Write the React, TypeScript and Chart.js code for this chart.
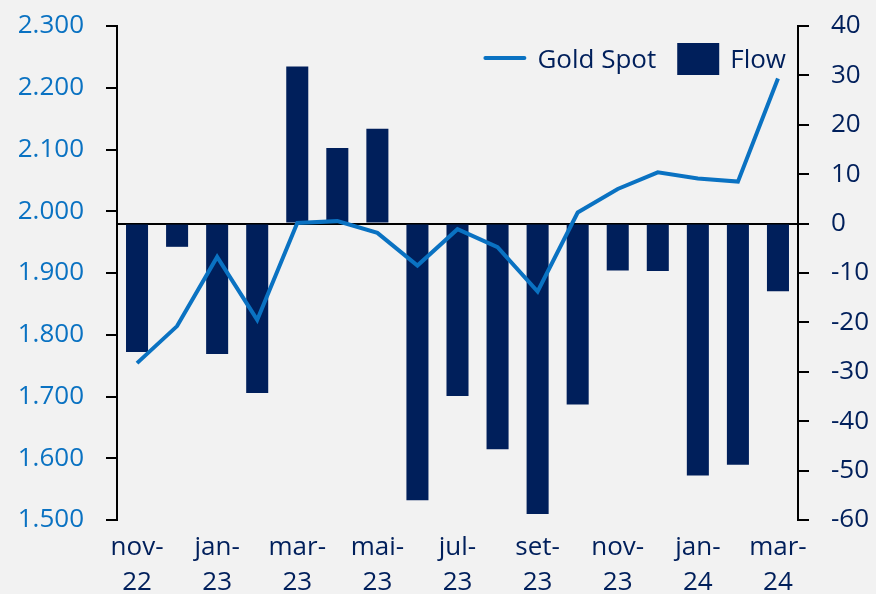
import React, { useEffect, useRef } from 'react';
import { Chart, registerables } from 'chart.js';

Chart.register(...registerables);

const categories = ['nov-22', 'dez-22', 'jan-23', 'fev-23', 'mar-23', 'abr-23', 'mai-23', 'jun-23', 'jul-23', 'ago-23', 'set-23', 'out-23', 'nov-23', 'dez-23', 'jan-24', 'fev-24', 'mar-24'];
const goldSpot = [1754, 1814, 1926, 1824, 1981, 1984, 1965, 1912, 1971, 1942, 1870, 1998, 2036, 2063, 2053, 2048, 2215];
const flow = [-26.0, -4.7, -26.4, -34.3, 31.8, 15.3, 19.2, -56.0, -34.9, -45.7, -58.8, -36.6, -9.5, -9.6, -51.0, -48.8, -13.7];
const seriesNames = ['Gold Spot', 'Flow'];
const leftRange = [1500, 2300, 100];
const rightRange = [-60, 40, 10];

const BLUE = '#0a72c2';
const NAVY = '#001f5b';
const BG = '#f2f2f2';
const FONT = 'Open Sans';

function fmtThousands(v: number): string {
  const s = Math.round(Math.abs(v)).toString();
  const body = s.length > 3 ? s.slice(0, -3) + '.' + s.slice(-3) : s;
  return (v < 0 ? '-' : '') + body;
}

const bgPlugin = {
  id: 'bgFill',
  beforeDraw(chart: any) {
    const ctx = chart.ctx;
    ctx.save();
    ctx.fillStyle = BG;
    ctx.fillRect(0, 0, chart.width, chart.height);
    ctx.restore();
  },
};

const legendPlugin = {
  id: 'customLegend',
  afterDraw(chart: any) {
    const ctx = chart.ctx;
    const area = chart.chartArea;
    const baseY = area.top + 42;
    ctx.save();
    ctx.font = `26px "${FONT}"`;
    ctx.fillStyle = NAVY;
    ctx.textBaseline = 'alphabetic';
    ctx.textAlign = 'right';
    const flowRight = area.right - 12;
    const flowW = ctx.measureText(seriesNames[1]).width;
    ctx.fillText(seriesNames[1], flowRight, baseY);
    const boxRight = flowRight - flowW - 11;
    const boxLeft = boxRight - 42;
    ctx.fillStyle = NAVY;
    ctx.fillRect(boxLeft, area.top + 17, 42, 32);
    const goldRight = boxLeft - 21;
    const goldW = ctx.measureText(seriesNames[0]).width;
    ctx.fillStyle = NAVY;
    ctx.fillText(seriesNames[0], goldRight, baseY);
    const lineRight = goldRight - goldW - 13;
    ctx.strokeStyle = BLUE;
    ctx.lineWidth = 4;
    ctx.lineCap = 'round';
    ctx.beginPath();
    ctx.moveTo(lineRight - 39, area.top + 32);
    ctx.lineTo(lineRight, area.top + 32);
    ctx.stroke();
    ctx.restore();
  },
};

export default function App() {
  const canvasRef = useRef<HTMLCanvasElement | null>(null);

  useEffect(() => {
    document.body.style.margin = '0';
    document.body.style.background = BG;
    const canvas = canvasRef.current;
    if (!canvas) return;
    const tickFont = { family: FONT, size: 26, lineHeight: 1.0 };
    const fitVertical = (width: number) => (s: any) => {
      s.width = width;
      s.paddingTop = 0;
      s.paddingBottom = 0;
    };
    const chart = new Chart(canvas, {
      type: 'bar',
      data: {
        labels: categories,
        datasets: [
          {
            type: 'line',
            label: seriesNames[0],
            data: goldSpot,
            yAxisID: 'y',
            borderColor: BLUE,
            backgroundColor: BLUE,
            borderWidth: 4,
            pointRadius: 0,
            tension: 0,
            order: 0,
          } as any,
          {
            type: 'bar',
            label: seriesNames[1],
            data: flow,
            yAxisID: 'y1',
            backgroundColor: NAVY,
            borderWidth: 0,
            barPercentage: 0.55,
            categoryPercentage: 1,
            order: 1,
          },
        ],
      },
      options: {
        responsive: true,
        maintainAspectRatio: false,
        animation: false,
        layout: { padding: { top: 26, left: 0, right: 0, bottom: 0 } },
        plugins: {
          legend: { display: false },
          tooltip: { enabled: false },
        },
        scales: {
          x: {
            offset: true,
            grid: { display: false },
            border: { display: false },
            ticks: {
              autoSkip: false,
              maxRotation: 0,
              minRotation: 0,
              color: NAVY,
              padding: 2,
              font: { family: FONT, size: 26, lineHeight: 1.35 },
              callback: (_v: any, i: number) => {
                if (i % 2 !== 0) return '';
                const [m, y] = categories[i].split('-');
                return [m + '-', y];
              },
            },
            afterFit: (s: any) => { s.height = 74; },
          },
          y: {
            position: 'left',
            min: leftRange[0],
            max: leftRange[1],
            ticks: {
              stepSize: leftRange[2],
              color: BLUE,
              padding: 22,
              font: tickFont,
              callback: (v: any) => fmtThousands(Number(v)),
            },
            grid: { drawOnChartArea: false, drawTicks: true, tickLength: 11, color: '#000', lineWidth: 2 },
            border: { color: '#000', width: 2 },
            afterFit: fitVertical(117),
          },
          y1: {
            position: 'right',
            min: rightRange[0],
            max: rightRange[1],
            ticks: {
              stepSize: rightRange[2],
              color: NAVY,
              padding: 22,
              font: tickFont,
              callback: (v: any) => String(v),
            },
            grid: {
              drawOnChartArea: true,
              drawTicks: true,
              tickLength: 11,
              lineWidth: 2,
              color: (c: any) => (c.tick && c.tick.value === 0 ? '#000' : 'rgba(0,0,0,0)'),
              tickColor: '#000',
            },
            border: { color: '#000', width: 2 },
            afterFit: fitVertical(78),
          },
        },
      },
      plugins: [bgPlugin, legendPlugin],
    });
    return () => chart.destroy();
  }, []);

  return (
    <div style={{ width: 876, height: 594, position: 'relative', background: BG }}>
      <canvas ref={canvasRef} />
    </div>
  );
}
